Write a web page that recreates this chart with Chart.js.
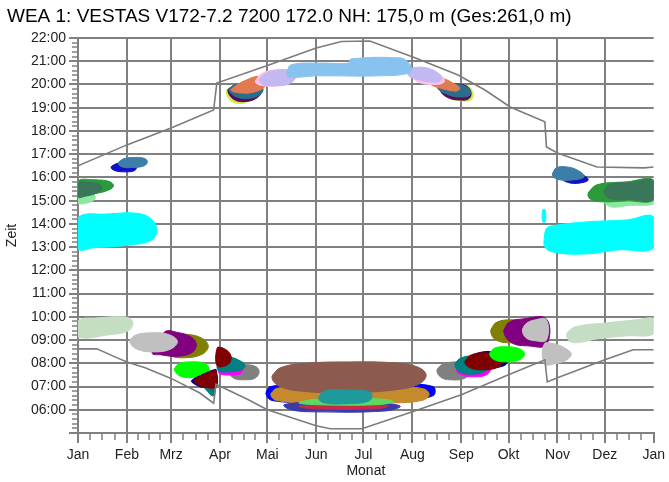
<!doctype html>
<html lang="de">
<head>
<meta charset="utf-8" />
<title>Schattenkalender WEA 1</title>
<script src="https://cdn.jsdelivr.net/npm/chart.js@4"></script>
<style>
  html, body { margin: 0; padding: 0; background: #fff; }
  canvas { display: block; }
</style>
</head>
<body>
<canvas id="chart" width="669" height="482"></canvas>
<script>
// Schattenwurfkalender: Tag im Jahr (x) gegen Uhrzeit (y), Flächen je Rezeptor.
const titleText = "WEA 1: VESTAS V172-7.2 7200 172.0 NH: 175,0 m (Ges:261,0 m)";
const monthLabels = ["Jan", "Feb", "Mrz", "Apr", "Mai", "Jun", "Jul", "Aug", "Sep", "Okt", "Nov", "Dez", "Jan"];
const monthStartDays = [0, 31, 59, 90, 120, 151, 181, 212, 243, 273, 304, 334, 365];
const hourTicks = [5, 6, 7, 8, 9, 10, 11, 12, 13, 14, 15, 16, 17, 18, 19, 20, 21, 22];

// Sonnenuntergang / Sonnenaufgang (Tag, Stunde)
const sunsetDays  = [0, 31, 59, 86, 88, 121, 151, 167, 185, 214, 241, 258, 274, 296, 297, 304, 329, 359, 365];
const sunsetHours = [16.5, 17.4, 18.13, 18.9, 20.06, 20.84, 21.57, 21.85, 21.87, 21.14, 20.41, 19.76, 19.03, 18.39, 17.31, 17.05, 16.45, 16.41, 16.45];
const sunriseDays  = [0, 12, 22, 31, 43, 59, 77, 86, 87.5, 108, 120, 151, 160, 180, 212, 243, 273, 296, 297.5, 304, 334, 352, 365];
const sunriseHours = [8.62, 8.62, 8.32, 8.06, 7.8, 7.35, 6.73, 6.28, 7.1, 6.43, 6.0, 5.31, 5.18, 5.18, 5.91, 6.65, 7.51, 8.15, 7.2, 7.38, 8.15, 8.58, 8.58];

// Schattenflächen, Umrisse als [Tag, Stunde]
// Nachmittag Jan/Feb
const cyanJan       = [[0, 14.26], [20, 14.43], [40, 14.43], [48, 14.1], [50, 13.66], [46, 13.27], [30, 13.07], [10, 12.97], [0, 12.93]];
const lightGreenJan = [[0, 15.33], [6, 15.38], [10, 15.25], [11, 15.1], [7, 14.92], [0, 14.9]];
const greenJan      = [[0, 15.85], [12, 15.89], [20, 15.82], [22.5, 15.62], [18, 15.42], [10, 15.3], [0, 15.22]];
const seaGreenJan   = [[0, 15.74], [8, 15.78], [14, 15.68], [15, 15.5], [11, 15.3], [5, 15.2], [0, 15.16]];
const blueFeb       = [[21, 16.45], [25, 16.6], [32, 16.62], [37, 16.5], [36, 16.3], [30, 16.24], [23, 16.3]];
const steelFeb      = [[25.5, 16.62], [29, 16.8], [36, 16.86], [42, 16.82], [44, 16.68], [42, 16.5], [35, 16.43], [28, 16.45]];

// Abendbogen Apr-Aug
const yellowGreenApr = [[94, 19.7], [97, 19.85], [104, 19.9], [110, 19.6], [108, 19.3], [103, 19.18], [97, 19.3]];
const plumApr        = [[95, 19.75], [99, 19.95], [110, 19.95], [116, 19.7], [114, 19.45], [107, 19.27], [99, 19.35]];
const tealEveApr     = [[95.8, 19.75], [99, 19.98], [108, 20.05], [117, 19.85], [116, 19.6], [110, 19.42], [101, 19.45]];
const coralApr       = [[97, 19.75], [100, 19.95], [107, 20.2], [114, 20.35], [119.5, 20.25], [119, 19.95], [113, 19.7], [104, 19.63]];
const pinkMai        = [[112.5, 20.1], [116, 20.45], [125, 20.62], [134, 20.55], [135, 20.2], [128, 19.96], [118, 19.94]];
const lavenderMai    = [[115, 20.2], [119, 20.48], [127, 20.63], [136, 20.58], [138, 20.3], [133, 20.0], [122, 19.95], [117, 20.0]];
const skyBand        = [[132.4, 20.5], [135, 20.84], [152.6, 20.92], [171.5, 20.92], [173, 21.1], [205, 21.14], [209, 20.97], [211.2, 20.75], [210, 20.49], [190, 20.37], [152, 20.37], [134, 20.32]];
const yellowGreenAug = [[232, 19.7], [238, 19.9], [247, 19.95], [250.3, 19.65], [249.5, 19.35], [243, 19.29], [236, 19.4]];
const plumAug        = [[230, 19.75], [236, 19.98], [245, 19.98], [249, 19.7], [248, 19.4], [242, 19.33], [234, 19.45]];
const tealEveAug     = [[228, 19.85], [233, 20.0], [242, 20.0], [248, 19.8], [248.5, 19.55], [243, 19.46], [235, 19.55]];
const coralAug       = [[220.5, 20.2], [224, 20.33], [230, 20.3], [238, 20.05], [242, 19.85], [240, 19.72], [232, 19.8], [224, 19.98]];
const pinkAug        = [[210, 20.5], [214, 20.62], [224, 20.6], [231, 20.35], [232, 20.1], [226, 20.0], [216, 20.1]];
const lavenderAug    = [[209, 20.55], [213, 20.72], [222, 20.7], [229, 20.45], [230.5, 20.2], [226, 20.1], [216, 20.2], [210, 20.35]];

// Nachmittag Nov/Dez
const blueNov       = [[307, 15.95], [312, 16.15], [320, 16.1], [323.5, 15.9], [320, 15.78], [312, 15.76]];
const steelNov      = [[300.8, 16.1], [303, 16.4], [310, 16.45], [317, 16.3], [321, 16.05], [317, 15.92], [305, 15.9]];
const lightGreenDez = [[333.5, 15.0], [345, 15.1], [365, 15.12], [365, 14.85], [350, 14.8], [338, 14.73]];
const greenDez      = [[323.5, 15.33], [329, 15.68], [348, 15.81], [365, 15.89], [365, 15.03], [348, 14.99], [332, 14.95], [324.7, 15.07]];
const seaGreenDez   = [[333.5, 15.4], [337, 15.7], [350, 15.78], [365, 15.85], [365, 15.05], [350, 15.05], [337, 15.1]];
const cyanDez       = [[295.7, 13.44], [297, 13.8], [301, 13.92], [323, 14.09], [348, 14.17], [365, 14.3], [365, 12.97], [342, 12.88], [323, 12.71], [304, 12.75], [296.3, 12.97]];
const cyanSpot      = [[294.6, 14.6], [296.2, 14.6], [296.2, 14.09], [294.6, 14.09]];

// Morgen Jan-Apr
const paleGreenJan = [[0, 9.83], [14, 9.96], [28, 10.0], [33.4, 9.91], [34.7, 9.66], [31.5, 9.38], [20, 9.23], [0, 9.14]];
const oliveMrz     = [[52, 8.8], [57, 9.15], [67, 9.25], [78, 9.1], [82.6, 8.75], [79, 8.4], [68, 8.24], [58, 8.35]];
const purpleMrz    = [[47, 8.45], [55, 9.35], [63, 9.33], [72, 9.12], [75, 8.78], [72, 8.45], [63, 8.3], [53, 8.36]];
const silverFeb    = [[32.8, 8.95], [36, 9.2], [46, 9.31], [57, 9.25], [63, 8.95], [59, 8.62], [48, 8.49], [37, 8.62]];
const limeMrz      = [[61.2, 7.75], [64, 7.98], [71, 8.06], [80, 8.0], [83.2, 7.75], [80, 7.5], [71, 7.38], [64, 7.48]];
const navyMrz      = [[72, 7.25], [80, 7.55], [86, 7.72], [87.6, 7.72], [87.6, 6.98], [80, 6.95], [74, 7.1]];
const tealMrz      = [[79, 7.1], [86.5, 7.2], [86.5, 6.65], [85, 6.6], [82, 6.8]];
const maroonMrz    = [[73.8, 7.25], [80, 7.51], [85.7, 7.68], [87.4, 7.68], [87.4, 6.99], [82, 6.95], [77, 7.05]];
const grayApr      = [[95.8, 7.6], [99, 7.88], [106, 7.94], [113, 7.85], [114.8, 7.6], [112, 7.35], [105, 7.29], [99, 7.35]];
const magentaApr   = [[89, 7.7], [95, 7.9], [104, 7.8], [103, 7.55], [96, 7.5], [90, 7.55]];
const tealApr      = [[88.3, 8.0], [90, 8.3], [96, 8.28], [103, 8.1], [105.9, 7.9], [103, 7.7], [96, 7.63], [89, 7.68]];
const maroonApr    = [[88.3, 8.67], [92, 8.65], [96, 8.45], [97.1, 8.2], [95, 7.95], [88.3, 7.89]];

// Morgen Sommer
const blueJun   = [[119.2, 6.7], [122, 7.0], [150, 7.1], [200, 7.1], [225.1, 7.0], [225, 6.6], [200, 6.36], [150, 6.32], [123, 6.4]];
const bronzeJun = [[122.3, 6.65], [126, 6.92], [150, 6.98], [200, 6.98], [219, 6.9], [222.6, 6.65], [218, 6.4], [200, 6.3], [150, 6.3], [126, 6.4]];
const brownJun  = [[123, 7.4], [128, 7.8], [145, 8.0], [172, 8.06], [200, 8.02], [215, 7.85], [220.7, 7.5], [216, 7.1], [200, 6.85], [172, 6.73], [145, 6.78], [128, 7.0]];
const navyJun   = [[130.5, 6.2], [140, 6.3], [190, 6.3], [204.3, 6.15], [195, 5.95], [150, 5.91], [135, 6.0]];
const redJun    = [[140, 6.15], [160, 6.22], [196.7, 6.18], [190, 6.05], [150, 6.04]];
const greenJun  = [[140, 6.3], [150, 6.45], [190, 6.47], [200, 6.35], [190, 6.22], [150, 6.22]];
const tealJun   = [[152.6, 6.5], [156, 6.8], [170, 6.85], [185.4, 6.75], [185, 6.4], [170, 6.26], [156, 6.3]];

// Morgen Sep-Dez
const graySep      = [[227.6, 7.7], [231, 7.95], [240, 8.06], [248, 7.95], [249, 7.65], [245, 7.35], [236, 7.29], [230, 7.4]];
const magentaSep   = [[240, 7.7], [244, 7.95], [252, 8.1], [260, 7.95], [261.5, 7.7], [258, 7.48], [250, 7.42], [243, 7.5]];
const tealSep      = [[239, 7.95], [242, 8.2], [250, 8.32], [258, 8.2], [261.7, 7.95], [258, 7.65], [250, 7.53], [242, 7.62]];
const navySep      = [[247, 8.1], [252, 8.4], [262, 8.5], [270, 8.3], [272.4, 8.05], [268, 7.85], [258, 7.8], [250, 7.85]];
const maroonSep    = [[245.3, 8.05], [249, 8.35], [258, 8.45], [266, 8.32], [269.9, 8.1], [266, 7.82], [257, 7.72], [249, 7.8]];
const limeOkt      = [[261, 8.4], [264, 8.65], [272, 8.71], [280, 8.62], [283.1, 8.4], [280, 8.15], [272, 8.06], [264, 8.15]];
const oliveOkt     = [[261.7, 9.38], [265, 9.75], [275, 9.87], [287, 9.75], [291.3, 9.38], [287, 9.0], [275, 8.88], [265, 9.0]];
const purpleOkt    = [[270, 9.35], [273, 9.75], [282, 9.91], [297, 9.91], [297, 8.8], [285, 8.75], [275, 8.88]];
const silverOkt    = [[281.8, 9.42], [284, 9.7], [290, 9.87], [297, 9.87], [297, 9.0], [290, 8.97], [284, 9.1]];
const silverNov    = [[295.7, 8.84], [303, 8.82], [310, 8.6], [312.7, 8.4], [310, 8.15], [303, 7.99], [295.7, 7.98]];
const paleGreenDez = [[310.2, 9.31], [315.3, 9.57], [335.4, 9.74], [354.3, 9.87], [365, 9.91], [365, 9.27], [348, 9.18], [329.1, 9.05], [315.3, 8.88], [310.8, 9.01]];

// drawing order, bottom first
const layers = [
  [cyanJan, "#00ffff"], [lightGreenJan, "#8ce8a0"], [greenJan, "#2a9a3a"], [seaGreenJan, "#3a765a"],
  [blueFeb, "#1010c8"], [steelFeb, "#3c7ea8"],
  [yellowGreenApr, "#c8f040"], [plumApr, "#5a0a5a"], [tealEveApr, "#2a6e8e"], [coralApr, "#e07a50"],
  [pinkMai, "#ffc0e8"], [lavenderMai, "#c2b8f2"],
  [yellowGreenAug, "#c8f040"], [plumAug, "#5a0a5a"], [tealEveAug, "#2a6e8e"], [coralAug, "#e07a50"],
  [pinkAug, "#ffc0e8"], [lavenderAug, "#c2b8f2"], [skyBand, "#88c2ee"],
  [blueNov, "#1010c8"], [steelNov, "#3c7ea8"],
  [lightGreenDez, "#8ce8a0"], [greenDez, "#2a9a3a"], [seaGreenDez, "#3a765a"],
  [cyanDez, "#00ffff"], [cyanSpot, "#00ffff"],
  [paleGreenJan, "#c4dec4"], [paleGreenDez, "#c4dec4"],
  [oliveMrz, "#808000"], [purpleMrz, "#800080"], [silverFeb, "#c0c0c0"], [limeMrz, "#00ff00"],
  [navyMrz, "#000080"], [tealMrz, "#008080"], [maroonMrz, "#800000"],
  [grayApr, "#808080"], [magentaApr, "#ff00ff"], [tealApr, "#008080"], [maroonApr, "#800000"],
  [blueJun, "#0000ff"], [bronzeJun, "#c48a2c"], [brownJun, "#8c5a4e"],
  [navyJun, "#3a3aa8"], [redJun, "#c8284a"], [greenJun, "#60d860"], [tealJun, "#1e9a9a"],
  [graySep, "#808080"], [magentaSep, "#ff00ff"], [tealSep, "#008080"], [navySep, "#000080"], [maroonSep, "#800000"],
  [limeOkt, "#00ff00"], [oliveOkt, "#808000"], [purpleOkt, "#800080"], [silverOkt, "#c0c0c0"], [silverNov, "#c0c0c0"],
];

const FONT = "'Liberation Sans', Arial, sans-serif";
const GRID = "#808080";

// closed outline: repeat the first two points so the spline closes smoothly
function outline(pts) {
  return pts.concat([pts[0], pts[1]]).map(([x, y]) => ({ x, y }));
}

const areaSets = layers.map(([pts, color]) => ({
  data: outline(pts),
  backgroundColor: color,
  borderColor: color,
  borderWidth: 1,
  pointRadius: 0,
  tension: 0.4,
  fill: "shape",
})).reverse(); // dataset 0 is drawn last

function sunLine(days, hours) {
  return {
    data: days.map((d, i) => ({ x: d, y: hours[i] })),
    borderColor: "#7c7c7c",
    borderWidth: 1.6,
    pointRadius: 0,
    tension: 0,
    fill: false,
  };
}

// short unlabeled ticks: quarter months along x, 12 minutes along y
const minorTicks = {
  id: "minorTicks",
  afterDraw(chart) {
    const { ctx, chartArea, scales: { x, y } } = chart;
    ctx.save();
    ctx.strokeStyle = GRID;
    ctx.lineWidth = 1.5;
    ctx.beginPath();
    for (let m = 0; m < monthStartDays.length - 1; m++) {
      const a = monthStartDays[m], b = monthStartDays[m + 1];
      for (let q = 1; q < 4; q++) {
        const px = Math.round(x.getPixelForValue(a + (b - a) * q / 4));
        ctx.moveTo(px, chartArea.bottom);
        ctx.lineTo(px, chartArea.bottom + 7);
      }
    }
    for (let h = hourTicks[0]; h < hourTicks[hourTicks.length - 1]; h++) {
      for (let k = 1; k < 5; k++) {
        const py = Math.round(y.getPixelForValue(h + k / 5));
        ctx.moveTo(chartArea.left, py);
        ctx.lineTo(chartArea.left - 6, py);
      }
    }
    ctx.stroke();
    ctx.restore();
  },
};

new Chart(document.getElementById("chart"), {
  type: "line",
  data: {
    datasets: [sunLine(sunsetDays, sunsetHours), sunLine(sunriseDays, sunriseHours), ...areaSets],
  },
  options: {
    responsive: false,
    devicePixelRatio: 1,
    animation: false,
    events: [],
    layout: { padding: { left: 7, right: 12, top: 0, bottom: 0 } },
    plugins: {
      legend: { display: false },
      tooltip: { enabled: false },
      title: {
        display: true,
        text: titleText,
        align: "start",
        color: "#000",
        font: { family: FONT, size: 19, weight: "normal", lineHeight: 1.2 },
        padding: { top: 5, bottom: 10.2 },
      },
    },
    scales: {
      x: {
        type: "linear",
        min: 0,
        max: 365,
        z: 1,
        afterBuildTicks: (s) => { s.ticks = monthStartDays.map((v) => ({ value: v })); },
        afterFit: (s) => { s.height = 49; },
        ticks: {
          autoSkip: false,
          maxRotation: 0,
          padding: 4,
          color: "#222",
          font: { family: FONT, size: 14 },
          callback: (v, i) => monthLabels[i],
        },
        grid: {
          color: (c) => (c.index === monthStartDays.length - 1 ? "rgba(0,0,0,0)" : GRID),
          tickColor: GRID,
          lineWidth: 2,
          tickLength: 10,
        },
        border: { display: true, color: GRID, width: 2 },
        title: { display: true, text: "Monat", color: "#222", font: { family: FONT, size: 14 }, padding: { top: 0, bottom: 2 } },
      },
      y: {
        min: 5,
        max: 22,
        z: 1,
        afterBuildTicks: (s) => { s.ticks = hourTicks.map((v) => ({ value: v })); },
        afterFit: (s) => { s.width = 71; },
        ticks: {
          autoSkip: false,
          padding: 3,
          color: "#222",
          font: { family: FONT, size: 14 },
          callback: (v) => (v === hourTicks[0] ? "" : String(v).padStart(2, "0") + ":00"),
        },
        grid: { color: GRID, tickColor: GRID, lineWidth: 2, tickLength: 9 },
        border: { display: true, color: GRID, width: 2 },
        title: { display: true, text: "Zeit", color: "#222", font: { family: FONT, size: 14, lineHeight: 1 }, padding: { top: -2, bottom: 0 } },
      },
    },
  },
  plugins: [minorTicks],
});
</script>
</body>
</html>
